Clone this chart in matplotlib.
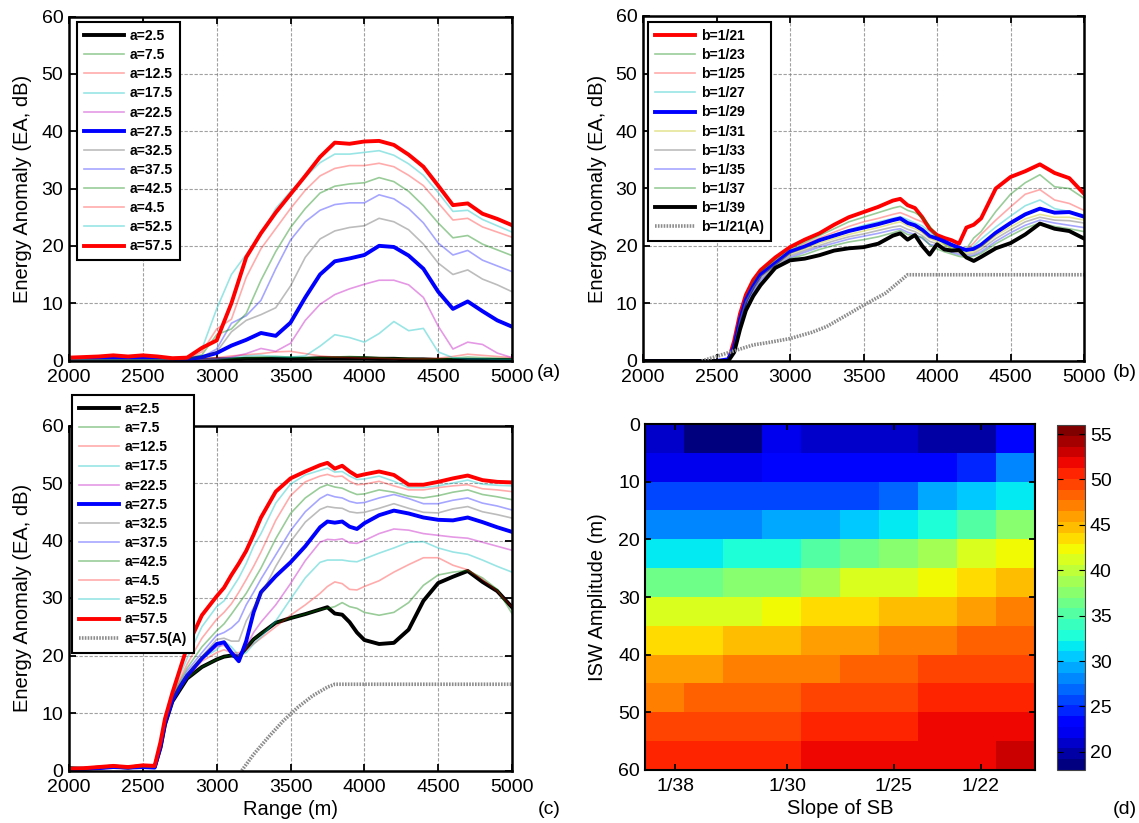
import numpy as np
import matplotlib
matplotlib.use("Agg")
import matplotlib.pyplot as plt

plt.rcParams['font.family'] = ['Liberation Sans', 'DejaVu Sans']

# ---------------- Panel (a) data ----------------
xa = list(range(2000, 5001, 100))
a_labels = ['a=2.5', 'a=7.5', 'a=12.5', 'a=17.5', 'a=22.5', 'a=27.5', 'a=32.5',
            'a=37.5', 'a=42.5', 'a=4.5', 'a=52.5', 'a=57.5']
a_2_5 = [0.1,0.1,0.1,0.1,0.1,0.1,0.1,0.1,0.1,0.1,0.2,0.2,0.3,0.3,0.3,0.3,0.3,0.4,0.4,0.4,0.4,0.3,0.3,0.2,0.2,0.1,0.1,0.1,0.1,0.1,0.1]
a_7_5 = [0.1,0.1,0.2,0.2,0.2,0.2,0.2,0.1,0.1,0.2,0.3,0.4,0.5,0.6,0.7,0.6,0.5,0.5,0.6,0.7,0.6,0.5,0.4,0.4,0.3,0.3,0.4,0.6,0.5,0.4,0.3]
a_12_5 = [0.2,0.2,0.3,0.3,0.3,0.3,0.3,0.2,0.2,0.3,0.5,0.8,1.0,1.2,1.5,1.6,1.2,0.8,0.6,0.5,0.4,0.4,0.3,0.3,0.3,0.4,0.7,1.1,0.9,0.7,0.5]
a_17_5 = [0.1,0.1,0.1,0.1,0.1,0.1,0.1,0.1,0.1,0.2,0.3,0.5,0.8,0.9,0.7,0.6,0.8,2.5,4.5,4.0,3.2,4.7,6.8,5.2,5.6,1.5,0.5,0.3,0.3,0.2,0.2]
a_22_5 = [0.1,0.1,0.1,0.1,0.1,0.1,0.1,0.1,0.1,0.2,0.3,0.6,1.2,2.1,1.6,3.0,7.0,9.8,11.5,12.5,13.3,14.0,14.0,13.2,11.0,6.0,2.0,3.2,2.8,1.3,0.5]
a_27_5 = [0.3,0.4,0.5,0.6,0.5,0.6,0.5,0.2,0.2,0.6,1.3,2.6,3.6,4.8,4.3,6.6,11.0,15.0,17.3,17.8,18.4,20.0,19.8,18.3,16.0,12.0,9.0,10.3,8.6,7.0,5.9]
a_32_5 = [0.1,0.1,0.1,0.1,0.1,0.1,0.1,0.1,0.2,0.5,1.5,5.0,7.0,8.0,9.2,13.0,18.0,21.2,22.6,23.2,23.5,24.8,24.2,22.8,20.3,17.0,15.0,15.8,14.2,13.2,12.0]
a_37_5 = [0.1,0.1,0.1,0.1,0.1,0.1,0.1,0.1,0.2,0.6,2.0,6.5,7.8,10.5,16.0,21.0,24.2,26.2,27.2,27.5,27.5,28.9,28.2,26.5,24.0,20.5,18.4,19.2,17.5,16.5,15.5]
a_42_5 = [0.1,0.1,0.1,0.1,0.1,0.1,0.1,0.1,0.3,1.0,4.5,5.5,8.2,14.0,19.0,23.2,26.5,29.2,30.4,30.8,31.0,31.9,31.2,29.5,27.0,24.0,21.4,21.8,20.3,19.3,18.3]
a_47_5 = [0.1,0.1,0.1,0.1,0.1,0.1,0.1,0.1,0.3,1.5,5.5,7.2,14.5,19.5,23.0,26.5,29.7,32.2,33.5,34.0,34.0,34.4,33.8,32.3,30.5,27.5,24.5,24.8,23.3,22.4,21.5]
a_52_5 = [0.1,0.1,0.1,0.1,0.1,0.1,0.1,0.2,0.4,2.0,9.0,15.0,18.5,22.0,26.5,29.5,32.0,34.5,36.0,36.0,36.3,36.6,35.8,34.3,32.3,29.3,26.0,26.2,24.6,23.5,22.4]
a_57_5 = [0.5,0.6,0.7,0.9,0.7,0.9,0.7,0.4,0.5,2.2,3.5,10.0,18.0,22.2,25.8,29.0,32.2,35.5,38.0,37.8,38.2,38.3,37.6,35.9,33.8,30.5,27.1,27.4,25.6,24.7,23.6]
a_series = [a_2_5, a_7_5, a_12_5, a_17_5, a_22_5, a_27_5, a_32_5, a_37_5,
            a_42_5, a_47_5, a_52_5, a_57_5]

# ---------------- Panel (b) data ----------------
xb = [2000, 2300, 2500, 2580, 2620, 2660, 2700, 2750, 2800, 2900, 3000, 3100, 3200,
      3300, 3400, 3500, 3600, 3700, 3750, 3800, 3850, 3900, 3950, 4000, 4050, 4100,
      4150, 4200, 4250, 4300, 4400, 4500, 4600, 4700, 4800, 4900, 5000]
b_labels = ['b=1/21', 'b=1/23', 'b=1/25', 'b=1/27', 'b=1/29', 'b=1/31', 'b=1/33',
            'b=1/35', 'b=1/37', 'b=1/39', 'b=1/21(A)']
b_21 = [0,0,0,0,3.5,8.2,11.5,14.1,15.8,18.0,19.8,21.1,22.2,23.7,25.0,25.9,26.8,27.9,28.2,27.1,26.6,25.0,23.0,21.9,21.4,21.0,20.4,23.2,23.7,24.8,30.0,32.0,33.0,34.2,32.7,31.8,29.1]
b_23 = [0,0,0,0,3.0,7.8,11.2,13.8,15.5,17.6,19.3,20.6,21.8,23.0,24.2,25.0,25.8,26.6,26.9,26.2,25.8,25.0,23.5,21.6,20.3,19.5,19.2,19.5,21.4,22.5,26.0,29.0,31.0,32.4,30.3,30.0,28.3]
b_25 = [0,0,0,0,2.8,7.6,11.0,13.6,15.3,17.4,19.0,20.3,21.4,22.4,23.4,24.2,24.8,25.5,25.8,25.3,24.7,24.2,23.0,21.5,20.5,19.9,19.5,19.3,20.5,22.0,24.5,26.8,29.0,29.8,28.0,27.4,26.2]
b_27 = [0,0,0,0,2.6,7.4,10.8,13.4,15.1,17.2,18.8,20.0,21.0,22.0,22.8,23.6,24.2,24.8,25.1,24.6,24.0,23.5,22.5,21.3,20.5,19.8,19.3,19.0,20.0,21.2,23.3,25.2,27.0,28.0,26.5,26.0,25.4]
b_29 = [0,0,0,0.3,2.5,7.2,10.6,13.0,15.0,17.0,19.0,19.9,21.0,21.8,22.6,23.2,23.8,24.5,24.8,24.0,23.6,22.8,21.7,21.3,20.8,20.2,19.7,19.3,19.5,20.2,22.3,24.0,25.5,26.5,25.8,25.9,25.1]
b_31 = [0,0,0,0.2,2.3,7.0,10.3,12.7,14.6,16.7,18.6,19.5,20.5,21.3,22.0,22.6,23.2,23.9,24.2,23.5,23.0,22.3,21.3,20.8,20.2,19.6,19.1,18.8,19.0,19.8,21.8,23.3,24.7,25.5,25.0,25.0,24.5]
b_33 = [0,0,0,0.1,2.1,6.7,10.0,12.4,14.3,16.5,18.3,19.2,20.1,20.9,21.6,22.1,22.7,23.3,23.5,22.9,22.5,21.8,20.8,20.4,19.8,19.2,18.8,18.5,18.7,19.4,21.3,22.8,24.2,25.0,24.5,24.4,24.0]
b_35 = [0,0,0,0.1,2.0,6.4,9.7,12.1,14.0,16.2,18.0,18.9,19.8,20.5,21.2,21.7,22.2,22.8,23.0,22.4,22.0,21.3,20.3,20.0,19.4,18.9,18.5,18.2,18.4,19.0,20.8,22.3,23.6,24.5,24.0,23.6,23.2]
b_37 = [0,0,0,0,1.8,6.0,9.3,11.7,13.6,16.0,17.8,18.5,19.4,20.1,20.7,21.1,21.6,22.3,22.7,22.0,21.8,21.5,20.2,19.5,19.0,18.6,18.2,18.0,18.2,18.7,20.4,21.8,23.1,24.0,23.4,23.0,22.5]
b_39 = [0,0,0,0,1.5,5.5,8.8,11.3,13.2,16.2,17.5,17.8,18.4,19.2,19.6,19.8,20.4,21.8,22.2,21.1,21.9,20.0,18.5,20.3,19.4,19.2,19.3,18.0,17.4,18.1,19.6,20.5,22.0,23.9,23.0,22.6,21.3]
b_series = [b_21, b_23, b_25, b_27, b_29, b_31, b_33, b_35, b_37, b_39]
xb_A = [2400, 2500, 2600, 2750, 2850, 3000, 3150, 3250, 3400, 3500, 3650, 3800, 5000]
b_A = [0, 0.8, 1.6, 2.8, 3.2, 3.9, 5.0, 6.0, 8.2, 9.7, 11.8, 15.0, 15.0]

# ---------------- Panel (c) data ----------------
xc = [2000, 2100, 2200, 2300, 2400, 2500, 2580, 2620, 2650, 2700, 2750, 2800, 2900,
      3000, 3050, 3100, 3150, 3200, 3250, 3300, 3400, 3500, 3600, 3700, 3750, 3800,
      3850, 3900, 3950, 4000, 4100, 4200, 4300, 4400, 4500, 4600, 4700, 4800, 4900, 5000]
c_labels = ['a=2.5', 'a=7.5', 'a=12.5', 'a=17.5', 'a=22.5', 'a=27.5', 'a=32.5',
            'a=37.5', 'a=42.5', 'a=4.5', 'a=52.5', 'a=57.5', 'a=57.5(A)']
c_2_5 = [0.4,0.3,0.5,0.7,0.5,0.8,0.6,4.0,8.0,12.0,14.0,16.0,18.0,19.3,19.8,20.0,19.8,21.3,22.8,23.8,25.7,26.5,27.2,28.0,28.4,27.3,27.1,25.8,24.0,22.7,22.0,22.2,24.5,29.5,32.6,33.7,34.7,32.8,31.2,28.4]
c_7_5 = [0.3,0.3,0.5,0.7,0.5,0.8,0.6,4.0,8.0,12.0,14.0,16.0,18.0,19.3,19.8,20.0,19.8,21.3,22.8,23.8,25.7,26.5,27.2,28.0,28.2,28.5,29.2,28.5,28.2,27.5,27.0,27.5,29.2,32.2,34.0,34.5,34.8,33.5,31.5,27.3]
c_12_5 = [0.2,0.3,0.5,0.6,0.5,0.7,0.6,4.0,8.0,12.0,14.1,16.1,19.0,20.5,21.0,20.5,20.5,21.0,22.0,23.0,25.0,27.0,28.8,30.8,32.0,32.8,32.5,31.5,31.4,32.0,33.0,34.5,35.8,37.0,37.0,35.7,34.9,33.2,31.2,28.4]
c_17_5 = [0.2,0.3,0.5,0.6,0.5,0.7,0.6,4.1,8.0,12.0,14.2,16.2,19.5,21.0,22.5,21.5,20.0,20.5,22.0,23.2,26.0,29.8,33.5,36.2,36.6,36.6,36.6,36.4,36.3,36.8,37.8,38.7,39.7,39.8,38.7,38.0,37.6,36.6,35.5,34.5]
c_22_5 = [0.2,0.3,0.5,0.6,0.5,0.7,0.6,4.2,8.1,12.1,14.3,16.3,19.5,21.5,21.8,20.5,20.0,21.5,24.0,25.8,28.8,32.5,36.5,39.7,40.2,40.1,40.3,39.6,39.5,40.0,41.2,42.0,41.8,41.2,40.9,40.6,40.4,39.7,39.0,38.3]
c_27_5 = [0.2,0.3,0.4,0.6,0.5,0.6,0.5,4.2,8.2,12.2,14.5,16.5,19.5,22.0,22.3,20.5,19.0,22.5,27.5,31.0,33.8,36.2,39.0,42.3,43.3,43.1,43.3,42.4,42.0,43.0,44.4,45.2,44.7,44.0,43.6,43.5,44.0,43.2,42.3,41.5]
c_32_5 = [0.2,0.3,0.5,0.6,0.5,0.7,0.6,4.3,8.3,12.4,14.7,16.8,19.8,22.8,23.0,22.5,22.5,26.0,28.3,30.5,35.5,39.8,43.2,45.4,45.9,45.7,45.6,45.0,44.8,44.9,45.6,46.4,45.6,44.9,44.8,45.5,45.9,45.0,44.5,43.9]
c_37_5 = [0.2,0.3,0.5,0.6,0.5,0.7,0.6,4.4,8.4,12.6,15.0,17.3,20.5,23.5,24.0,24.8,26.0,28.8,31.0,33.3,37.5,41.7,45.0,47.3,48.0,47.6,47.4,46.8,46.5,46.6,47.4,48.0,47.3,46.4,46.4,47.0,47.4,46.5,46.0,45.3]
c_42_5 = [0.2,0.3,0.5,0.6,0.5,0.7,0.6,4.5,8.5,12.8,15.4,17.8,21.5,24.3,25.5,27.2,29.0,30.8,33.0,35.2,40.3,44.7,47.4,49.2,49.7,49.3,49.1,48.5,48.0,48.1,48.8,48.4,47.7,47.4,47.8,48.4,48.8,48.0,47.6,47.1]
c_47_5 = [0.2,0.3,0.5,0.6,0.5,0.7,0.6,4.6,8.6,13.0,15.8,18.5,23.0,26.3,27.5,29.0,31.0,33.2,35.5,38.0,43.5,47.8,50.2,51.2,51.5,51.1,51.2,50.3,49.7,49.8,50.3,49.5,48.8,48.8,49.2,49.5,49.7,49.0,48.8,48.5]
c_52_5 = [0.2,0.3,0.5,0.6,0.5,0.7,0.6,4.8,8.8,13.2,16.5,19.5,25.0,28.5,29.5,31.5,33.5,36.0,39.0,41.2,46.5,49.8,51.4,52.2,52.6,51.9,52.0,51.2,50.6,50.7,51.2,50.3,49.2,49.2,49.5,50.0,50.5,49.8,49.6,49.5]
c_57_5 = [0.3,0.4,0.6,0.8,0.6,0.9,0.8,5.0,9.0,13.5,17.5,21.5,27.0,30.3,31.8,34.0,36.0,38.2,41.0,44.0,48.5,50.8,52.0,53.1,53.5,52.5,53.0,52.0,51.2,51.5,52.0,51.4,49.7,49.7,50.2,50.8,51.3,50.5,50.2,50.1]
c_series = [c_2_5, c_7_5, c_12_5, c_17_5, c_22_5, c_27_5, c_32_5, c_37_5,
            c_42_5, c_47_5, c_52_5, c_57_5]
xc_A = [3170, 3250, 3350, 3450, 3550, 3650, 3750, 3800, 5000]
c_A = [0, 2.8, 5.8, 8.6, 11.0, 13.0, 14.5, 15.0, 15.0]

# ---------------- Panel (d) data ----------------
slopes = [1/39, 1/37, 1/35, 1/33, 1/31, 1/29, 1/27, 1/25, 1/23, 1/21]
amplitudes = [2.5, 7.5, 12.5, 17.5, 22.5, 27.5, 32.5, 37.5, 42.5, 47.5, 52.5, 57.5]
slope_ticks = [1/38, 1/30, 1/25, 1/22]
slope_ticklabels = ['1/38', '1/30', '1/25', '1/22']
ea_grid = [
    [20.4, 19.1, 19.1, 22.4, 20.4, 21.5, 21.5, 19.8, 19.8, 23.3],
    [21.7, 21.7, 21.7, 23.2, 23.2, 23.2, 23.2, 23.2, 25.0, 27.5],
    [25.7, 25.7, 25.7, 26.3, 26.3, 26.3, 27.2, 28.7, 30.9, 31.7],
    [27.5, 28.3, 28.3, 29.8, 29.8, 30.9, 31.8, 33.2, 34.7, 37.5],
    [31.8, 31.8, 33.2, 33.2, 34.7, 35.9, 37.5, 39.2, 40.8, 42.0],
    [35.9, 35.9, 37.5, 37.5, 39.2, 40.8, 40.8, 42.0, 43.1, 44.4],
    [40.8, 40.8, 40.8, 42.0, 43.1, 43.1, 44.4, 44.4, 45.6, 46.9],
    [43.1, 43.1, 44.4, 44.4, 45.6, 45.6, 46.9, 46.9, 48.0, 48.0],
    [45.6, 45.6, 46.9, 46.9, 46.9, 48.0, 48.0, 49.3, 49.3, 49.3],
    [46.9, 48.0, 48.0, 48.0, 49.3, 49.3, 49.3, 50.6, 50.6, 50.6],
    [49.3, 49.3, 49.3, 49.3, 50.6, 50.6, 50.6, 51.8, 51.8, 51.8],
    [50.6, 50.6, 50.6, 50.6, 51.8, 51.8, 51.8, 51.8, 51.8, 52.8],
]
cbar_ticks = [20, 25, 30, 35, 40, 45, 50, 55]

# ---------------- styles ----------------
GREEN = (0, 0.5, 0)
RED = (1, 0, 0)
CYAN = (0, 0.75, 0.75)
MAG = (0.75, 0, 0.75)
BLUE = (0, 0, 1)
BLACK = (0, 0, 0)
GRAY = (0.25, 0.25, 0.25)
OLIVE = (0.75, 0.75, 0)
THICK, THIN, FA = 2.8, 1.2, 0.4

a_styles = [(BLACK, THICK, 1), (GREEN, THIN, FA), (RED, THIN, 0.33), (CYAN, THIN, FA),
            (MAG, THIN, FA), (BLUE, THICK, 1), (GRAY, THIN, 0.35), (BLUE, THIN, 0.35),
            (GREEN, THIN, FA), (RED, THIN, 0.33), (CYAN, THIN, FA), (RED, THICK, 1)]
b_styles = [(RED, THICK, 1), (GREEN, THIN, FA), (RED, THIN, 0.33), (CYAN, THIN, FA),
            (BLUE, THICK, 1), (OLIVE, THIN, FA), (GRAY, THIN, 0.35), (BLUE, THIN, 0.35),
            (GREEN, THIN, FA), (BLACK, THICK, 1)]

W, H = 1139, 823
FS = 14
fig = plt.figure(figsize=(W / 100, H / 100), dpi=100)


def px_axes(l, t, r, b):
    return fig.add_axes([l / W, 1 - b / H, (r - l) / W, (b - t) / H])


def style_line_axes(ax):
    ax.set_xlim(2000, 5000)
    ax.set_ylim(0, 60)
    ax.set_xticks(range(2000, 5001, 500))
    ax.set_yticks(range(0, 61, 10))
    ax.grid(True, color='#7a7a7a', linestyle=(0, (3, 1.5)), linewidth=0.8, alpha=0.7)
    ax.set_axisbelow(True)
    ax.tick_params(direction='in', length=5, width=1.3, top=True, right=True,
                   labelsize=FS)
    ax.tick_params(axis='x', pad=6)
    ax.tick_params(axis='y', pad=4)
    for s in ax.spines.values():
        s.set_linewidth(1.8)


def set_ylab(ax, text, xfrac):
    ax.set_ylabel(text, fontsize=14.5)
    ax.yaxis.set_label_coords(xfrac, 0.5)
    ax.yaxis.label.set_va('center')


leg_kw = dict(prop={'weight': 'bold', 'size': 10}, handlelength=2.9, handletextpad=0.4,
              labelspacing=0.37, borderpad=0.5, borderaxespad=0, fancybox=False,
              framealpha=1, edgecolor='black', loc='upper left')

dot_style = dict(color='#8c8c8c', linewidth=2.6, linestyle=(0, (0.45, 0.35)))

# ---- (a)
ax_a = px_axes(69, 16.5, 512, 360.5)
style_line_axes(ax_a)
for y, lab, (c, lw, al) in zip(a_series, a_labels, a_styles):
    ax_a.plot(xa, y, color=c, lw=lw, alpha=al, label=lab)
set_ylab(ax_a, 'Energy Anomaly (EA, dB)', -0.106)
leg = ax_a.legend(bbox_to_anchor=(77 / W, 1 - 22 / H), bbox_transform=fig.transFigure, **leg_kw)
leg.get_frame().set_linewidth(1.5)

# ---- (b)
ax_b = px_axes(643, 16, 1084, 361)
style_line_axes(ax_b)
for y, lab, (c, lw, al) in zip(b_series, b_labels[:-1], b_styles):
    ax_b.plot(xb, y, color=c, lw=lw, alpha=al, label=lab)
ax_b.plot(xb_A, b_A, label=b_labels[-1], **dot_style)
set_ylab(ax_b, 'Energy Anomaly (EA, dB)', -0.104)
leg = ax_b.legend(bbox_to_anchor=(648 / W, 1 - 22 / H), bbox_transform=fig.transFigure, **leg_kw)
leg.get_frame().set_linewidth(1.5)

# ---- (c)
ax_c = px_axes(69, 425.5, 512, 770.5)
style_line_axes(ax_c)
for y, lab, (c, lw, al) in zip(c_series, c_labels[:-1], a_styles):
    ax_c.plot(xc, y, color=c, lw=lw, alpha=al, label=lab)
ax_c.plot(xc_A, c_A, label=c_labels[-1], **dot_style)
set_ylab(ax_c, 'Energy Anomaly (EA, dB)', -0.106)
ax_c.set_xlabel('Range (m)', fontsize=14.5)
leg = ax_c.legend(bbox_to_anchor=(72 / W, 1 - 395 / H), bbox_transform=fig.transFigure, **leg_kw)
leg.get_frame().set_linewidth(1.5)

# ---- (d)
ax_d = px_axes(645, 424, 1035, 770)
d = (slopes[-1] - slopes[0]) / (len(slopes) - 1)
cmap = plt.get_cmap('jet', 32)
im = ax_d.imshow(np.array(ea_grid), cmap=cmap, vmin=18, vmax=56, aspect='auto',
                 interpolation='nearest',
                 extent=[slopes[0] - d / 2, slopes[-1] + d / 2, 60, 0])
ax_d.set_yticks(range(0, 61, 10))
ax_d.set_xticks(slope_ticks)
ax_d.set_xticklabels(slope_ticklabels)
ax_d.tick_params(direction='in', length=4, width=1.3, top=True, right=True,
                 labelsize=FS)
ax_d.tick_params(axis='x', pad=6)
for s in ax_d.spines.values():
    s.set_linewidth(1.5)
set_ylab(ax_d, 'ISW Amplitude (m)', -0.123)
ax_d.set_xlabel('Slope of SB', fontsize=14.5)

cax = px_axes(1057, 425, 1085, 770)
cb = fig.colorbar(im, cax=cax)
cb.set_ticks(cbar_ticks)
cax.tick_params(labelsize=FS, direction='in', length=4, width=0.8, left=True, right=True)
cb.outline.set_linewidth(0.8)
cb.outline.set_edgecolor('#444444')

# x-label positions
for ax in (ax_c, ax_d):
    ax.xaxis.set_label_coords(0.5, -0.112)
    ax.xaxis.label.set_va('center')

# panel letters
for txt, x, y in [('(a)', 549, 373), ('(b)', 1125, 373), ('(c)', 549, 809), ('(d)', 1125, 809)]:
    fig.text(x / W, 1 - y / H, txt, ha='center', va='center', fontsize=FS)

fig.savefig('out.png', dpi=100)
